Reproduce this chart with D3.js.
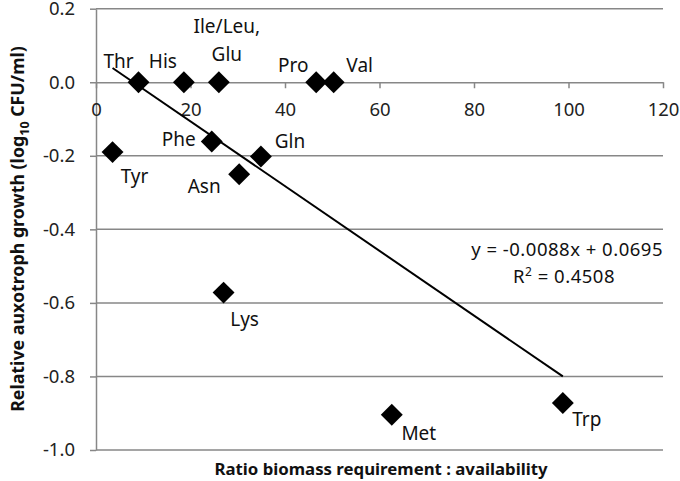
<!DOCTYPE html>
<html><head><meta charset="utf-8">
<script src="https://cdn.jsdelivr.net/npm/d3@7"></script>
<style>body{margin:0;background:#fff}svg{display:block}text{font-family:"Noto Sans",sans-serif}</style>
</head><body><svg id="c" width="680" height="481"></svg>
<script>
const labels = ["Thr","His","Ile/Leu,\nGlu","Pro","Val","Tyr","Phe","Asn","Gln","Lys","Met","Trp"];
const xValues = [9.0, 18.6, 26.0, 46.6, 50.3, 3.5, 24.5, 30.3, 34.9, 27.0, 62.6, 98.8];
const yValues = [0, 0, 0, 0, 0, -0.19, -0.161, -0.25, -0.202, -0.572, -0.904, -0.872];
const xTicks = [0,20,40,60,80,100,120];
const yTicks = [0.2,0,-0.2,-0.4,-0.6,-0.8,-1.0];
const slope = -0.0088, intercept = 0.0695;
const eqText = "y = -0.0088x + 0.0695", r2Text = "0.4508";

// label offsets (dx, dy of first baseline relative to point)
const labelPos = {
  "Thr":[-20,-14],"His":[-21,-14],"Ile/Leu,\nGlu":[8,-49],
  "Pro":[-23,-10],"Val":[26,-10],"Tyr":[22,31],
  "Phe":[-33,5],"Asn":[-35,19],"Gln":[29,-9],
  "Lys":[21,33],"Met":[27,25],"Trp":[24,23]
};

const svg = d3.select("#c");
const x = d3.scaleLinear().domain([0,120]).range([96,663]);
const y = d3.scaleLinear().domain([-1,0.2]).range([450,8.7]);
const grey = "#878787";

// gridlines
svg.append("g").selectAll("line").data(yTicks.filter(d=>d!==0)).join("line")
  .attr("x1",x(0)).attr("x2",x(120)).attr("y1",d=>y(d)).attr("y2",d=>y(d))
  .attr("stroke",grey).attr("stroke-width",1.5);

// y axis
const yAxis = svg.append("g").attr("transform",`translate(${x(0)},0)`)
  .call(d3.axisLeft(y).tickValues(yTicks).tickSize(6).tickPadding(15).tickSizeOuter(0));
yAxis.select(".domain").attr("stroke",grey).attr("stroke-width",1.5);
yAxis.selectAll(".tick line").attr("stroke",grey).attr("stroke-width",1.5);
yAxis.selectAll("text").attr("font-size",18.5).attr("fill","#222").attr("font-family","Noto Sans")
  .text(d=>d3.format(".1f")(d).replace("−","-"));

// x axis at y=0
const xAxis = svg.append("g").attr("transform",`translate(0,${y(0)})`)
  .call(d3.axisBottom(x).tickValues(xTicks).tickSize(6).tickPadding(15).tickSizeOuter(0));
xAxis.select(".domain").attr("stroke",grey).attr("stroke-width",1.5);
xAxis.selectAll(".tick line").attr("stroke",grey).attr("stroke-width",1.5);
xAxis.selectAll("text").attr("font-size",18.5).attr("fill","#222").attr("font-family","Noto Sans");

// trend line
const xmin = d3.min(xValues), xmax = d3.max(xValues);
svg.append("line").attr("x1",x(xmin)).attr("y1",y(slope*xmin+intercept))
  .attr("x2",x(xmax)).attr("y2",y(slope*xmax+intercept))
  .attr("stroke","#000").attr("stroke-width",2);

// points (diamonds)
const pts = labels.map((l,i)=>({l,x:xValues[i],y:yValues[i]}));
svg.append("g").selectAll("path").data(pts).join("path")
  .attr("d",d3.symbol(d3.symbolSquare,240))
  .attr("transform",d=>`translate(${x(d.x)},${y(d.y)}) rotate(45)`)
  .attr("fill","#000");

// labels
const lg = svg.append("g");
pts.forEach(d=>{
  const p = labelPos[d.l];
  const t = lg.append("text").attr("x",x(d.x)+p[0]).attr("y",y(d.y)+p[1])
    .attr("text-anchor","middle").attr("font-size",19).attr("fill","#111");
  d.l.split("\n").forEach((s,i)=>t.append("tspan").attr("x",x(d.x)+p[0]).attr("dy",i?28:0).text(s));
});

// equation
svg.append("text").attr("x",663).attr("y",256).attr("text-anchor","end")
  .attr("font-size",18.5).attr("letter-spacing",0.5).attr("fill","#111").text(eqText);
const r2 = svg.append("text").attr("x",564).attr("y",283).attr("text-anchor","middle")
  .attr("font-size",18.5).attr("letter-spacing",0.5).attr("fill","#111");
r2.append("tspan").text("R");
r2.append("tspan").attr("dy",-7).attr("font-size",12).text("2");
r2.append("tspan").attr("dy",7).text(" = " + r2Text);

// axis titles
svg.append("text").attr("x",381).attr("y",475).attr("text-anchor","middle")
  .attr("font-size",16.8).attr("font-weight","bold").attr("fill","#111")
  .text("Ratio biomass requirement : availability");
const yt = svg.append("text").attr("transform","translate(24,229) rotate(-90)")
  .attr("text-anchor","middle").attr("font-size",17.8).attr("font-weight","bold").attr("fill","#111");
yt.append("tspan").text("Relative auxotroph growth (log");
yt.append("tspan").attr("dy",5).attr("font-size",12.5).text("10");
yt.append("tspan").attr("dy",-5).text(" CFU/ml)");
</script></body></html>
